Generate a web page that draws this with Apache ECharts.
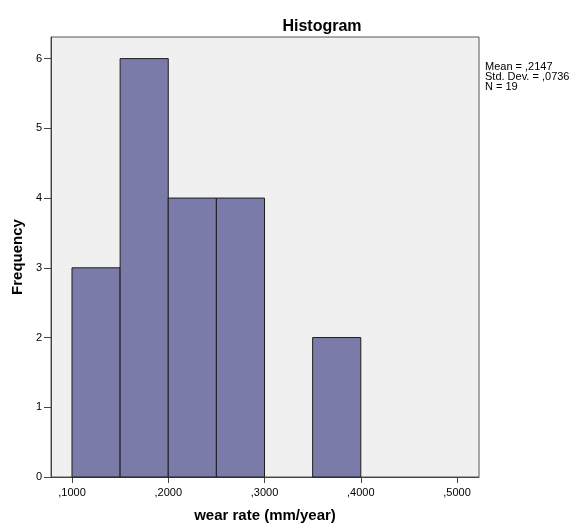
<!DOCTYPE html>
<html><head><meta charset="utf-8">
<script src="https://cdn.jsdelivr.net/npm/echarts@6/dist/echarts.min.js"></script>
<style>html,body{margin:0;padding:0;background:#fff}#c{width:580px;height:528px}</style>
</head><body><div id="c"></div>
<script>
const binStarts = [0.10, 0.15, 0.20, 0.25, 0.35];
const binEnds   = [0.15, 0.20, 0.25, 0.30, 0.40];
const counts    = [3, 6, 4, 4, 2];
const xTicks = [0.1, 0.2, 0.3, 0.4, 0.5];
const xTickLabels = [',1000', ',2000', ',3000', ',4000', ',5000'];
const yTicks = [0, 1, 2, 3, 4, 5, 6];
const statsLines = ['Mean = ,2147', 'Std. Dev. = ,0736', 'N = 19'];

const data = binStarts.map((s, i) => [s, binEnds[i], counts[i]]);
const chart = echarts.init(document.getElementById('c'), null, {renderer: 'canvas'});
const font = 'Liberation Sans, Arial, sans-serif';
chart.setOption({
  animation: false,
  backgroundColor: '#ffffff',
  title: {
    text: 'Histogram', left: 317, top: 14, textAlign: 'center',
    textStyle: {fontFamily: font, fontSize: 16, fontWeight: 'bold', color: '#000'}
  },
  graphic: [{
    type: 'text', left: 485, top: 61,
    style: {text: statsLines.join('\n'), fontFamily: font, fontSize: 11, lineHeight: 10, fill: '#000'}
  }],
  grid: {
    left: 51, right: 101, top: 37, bottom: 49,
    show: true, backgroundColor: '#f0f0f0', borderColor: '#555', borderWidth: 1
  },
  xAxis: {
    type: 'value', min: 0.0782, max: 0.5228,
    name: 'wear rate (mm/year)', nameLocation: 'middle', nameGap: 31,
    nameTextStyle: {fontFamily: font, fontSize: 15, fontWeight: 'bold', color: '#000'},
    axisLine: {show: true, lineStyle: {color: '#444', width: 1}},
    axisTick: {show: true, length: 6, customValues: xTicks, lineStyle: {color: '#444'}},
    axisLabel: {
      customValues: xTicks, margin: 10, fontFamily: font, fontSize: 11, color: '#000',
      formatter: v => { const i = xTicks.findIndex(t => Math.abs(t - v) < 1e-9); return i >= 0 ? xTickLabels[i] : ''; }
    },
    splitLine: {show: false}
  },
  yAxis: {
    type: 'value', min: 0, max: 6.31,
    name: 'Frequency', nameLocation: 'middle', nameGap: 22, nameRotate: 90,
    nameTextStyle: {fontFamily: font, fontSize: 15, fontWeight: 'bold', color: '#000'},
    axisLine: {show: true, lineStyle: {color: '#444', width: 1}},
    axisTick: {show: true, length: 7, customValues: yTicks, lineStyle: {color: '#444'}},
    axisLabel: {customValues: yTicks, margin: 9, fontFamily: font, fontSize: 11, color: '#000'},
    splitLine: {show: false}
  },
  series: [{
    type: 'custom',
    data: data,
    encode: {x: [0, 1], y: 2},
    renderItem: function (params, api) {
      const p0 = api.coord([api.value(0), api.value(2)]);
      const p1 = api.coord([api.value(1), 0]);
      return {
        type: 'rect',
        shape: {x: p0[0], y: p0[1], width: p1[0] - p0[0], height: p1[1] - p0[1]},
        style: {fill: '#7a7ba8', stroke: '#1e1e1e', lineWidth: 1}
      };
    }
  }]
});
</script></body></html>
